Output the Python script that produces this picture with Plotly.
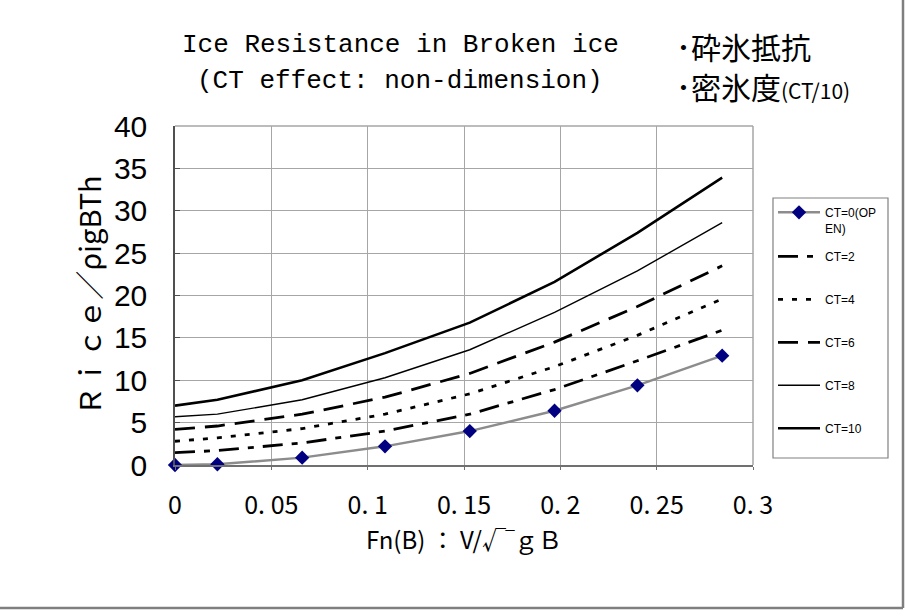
import plotly.graph_objects as go

# ---- data ----
fn = [0.0, 0.022, 0.066, 0.109, 0.153, 0.197, 0.240, 0.284]
ct0 = [0.0, 0.09, 0.87, 2.2, 4.0, 6.4, 9.4, 12.9]
ct2 = [1.45, 1.7, 2.6, 4.0, 6.0, 8.9, 12.3, 15.9]
ct4 = [2.8, 3.2, 4.3, 6.0, 8.4, 11.6, 15.3, 19.6]
ct6 = [4.2, 4.6, 6.0, 8.0, 10.8, 14.5, 18.7, 23.5]
ct8 = [5.7, 6.0, 7.7, 10.3, 13.6, 18.0, 22.9, 28.6]
ct10 = [7.0, 7.7, 10.0, 13.2, 16.8, 21.6, 27.4, 33.9]
series_names = ["CT=0(OP<br>EN)", "CT=2", "CT=4", "CT=6", "CT=8", "CT=10"]
x_ticks = [0, 0.05, 0.1, 0.15, 0.2, 0.25, 0.3]
x_ticktext = ["0", "0. 05", "0. 1", "0. 15", "0. 2", "0. 25", "0. 3"]
y_ticks = [0, 5, 10, 15, 20, 25, 30, 35, 40]

# ---- layout geometry (pixels) ----
W, H = 906, 610
L, R, T, B = 175, 753, 126, 465


def px(x):
    return (x - L) / (R - L)


def py(y):
    return (B - y) / (B - T)


JP = "Noto Sans CJK JP"
fig = go.Figure()

fig.add_trace(go.Scatter(
    x=fn, y=ct0, name=series_names[0], mode="lines+markers",
    line=dict(color="#8c8c8c", width=2.5),
    marker=dict(symbol="diamond", size=11, color="#000080"),
    legend="legend", cliponaxis=False))

styles = [
    (ct2, series_names[1], "20px,9px,6px,9px", 2.8),
    (ct4, series_names[2], "5px,9px", 2.8),
    (ct6, series_names[3], "20px,10px", 2.8),
    (ct8, series_names[4], "solid", 1.4),
    (ct10, series_names[5], "solid", 2.6),
]
for i, (vals, nm, dash, w) in enumerate(styles):
    fig.add_trace(go.Scatter(
        x=fn, y=vals, name=nm, mode="lines",
        line=dict(color="black", width=w, dash=dash),
        legend="legend2", legendgroup="g%d" % (i + 1)))

leg_font = dict(family="Liberation Sans, Arial", size=12, color="black")
fig.update_layout(
    width=W, height=H,
    margin=dict(l=L, r=W - R, t=T, b=H - B, pad=0),
    plot_bgcolor="white", paper_bgcolor="white",
    showlegend=True,
    legend=dict(
        x=px(773), y=py(198), xanchor="left", yanchor="top",
        borderwidth=0, bgcolor="rgba(0,0,0,0)",
        font=leg_font, valign="top", itemwidth=42,
    ),
    legend2=dict(
        x=px(773), y=py(242), xanchor="left", yanchor="top",
        borderwidth=0, bgcolor="rgba(0,0,0,0)",
        font=leg_font, valign="top", itemwidth=42,
        tracegroupgap=24, traceorder="grouped",
    ),
    xaxis=dict(
        range=[0, 0.3], tickvals=x_ticks, ticktext=x_ticktext,
        showgrid=True, gridcolor="#a6a6a6", gridwidth=1,
        showline=True, linecolor="#707070", linewidth=1.5, mirror=False,
        ticks="outside", ticklen=3, tickcolor="#707070",
        tickfont=dict(family=JP, size=25, color="black"),
        ticklabelstandoff=14, zeroline=False,
        title=dict(text="Fn(B) ： V/√‾ｇＢ",
                   font=dict(family=JP, size=24, color="black"),
                   standoff=10),
    ),
    yaxis=dict(
        range=[0, 40], tickvals=y_ticks,
        showgrid=True, gridcolor="#a6a6a6", gridwidth=1,
        showline=True, linecolor="#505050", linewidth=1.5,
        ticks="inside", ticklen=5, tickcolor="#505050",
        tickfont=dict(family="Liberation Sans, Arial", size=30, color="black"),
        ticklabelstandoff=20, zeroline=False,
        title=dict(text="Ｒｉｃｅ／ρigBTh",
                   font=dict(family=JP, size=29, color="black"),
                   standoff=4),
    ),
)

# legend frame
fig.add_shape(type="rect", xref="paper", yref="paper",
              x0=px(773), x1=px(888), y0=py(198), y1=py(458),
              line=dict(color="#808080", width=1.2), fillcolor="white", layer="below")

# top & right plot frame lines
fig.add_shape(type="line", xref="paper", yref="paper", x0=0, x1=1, y0=1, y1=1,
              line=dict(color="#a6a6a6", width=1.5))
fig.add_shape(type="line", xref="paper", yref="paper", x0=1, x1=1, y0=0, y1=1,
              line=dict(color="#a6a6a6", width=1.5))

# outer chart border (right and bottom)
fig.add_shape(type="line", xref="paper", yref="paper",
              x0=px(903), x1=px(903), y0=py(0), y1=py(608),
              line=dict(color="#7f7f7f", width=2.5))
fig.add_shape(type="line", xref="paper", yref="paper",
              x0=px(0), x1=px(903), y0=py(608), y1=py(608),
              line=dict(color="#7f7f7f", width=2.5))

# titles
MONO = "Liberation Mono, DejaVu Sans Mono"
fig.add_annotation(text="Ice Resistance in Broken ice", xref="paper", yref="paper",
                   x=px(400), y=py(45), xanchor="center", yanchor="middle",
                   showarrow=False, font=dict(family=MONO, size=26, color="black"))
fig.add_annotation(text="(CT effect: non-dimension)", xref="paper", yref="paper",
                   x=px(400), y=py(81), xanchor="center", yanchor="middle",
                   showarrow=False, font=dict(family=MONO, size=26, color="black"))
fig.add_annotation(text="･砕氷抵抗", xref="paper", yref="paper",
                   x=px(674), y=py(46), xanchor="left", yanchor="middle",
                   showarrow=False, font=dict(family=JP, size=30, color="black"))
fig.add_annotation(text="･密氷度<span style='font-size:21px'>(CT/10)</span>", xref="paper", yref="paper",
                   x=px(674), y=py(86), xanchor="left", yanchor="middle",
                   showarrow=False, font=dict(family=JP, size=30, color="black"))

fig.write_html("out.html")
